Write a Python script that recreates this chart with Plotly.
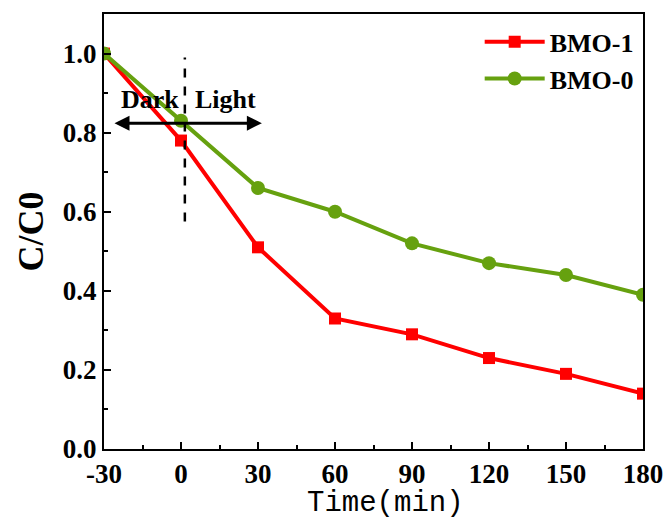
import plotly.graph_objects as go

time = [-30, 0, 30, 60, 90, 120, 150, 180]
bmo1 = [1.0, 0.78, 0.51, 0.33, 0.29, 0.23, 0.19, 0.14]
bmo0 = [1.0, 0.83, 0.66, 0.60, 0.52, 0.47, 0.44, 0.39]
x_ticks = [-30, 0, 30, 60, 90, 120, 150, 180]
y_ticks = [0.0, 0.2, 0.4, 0.6, 0.8, 1.0]

serif = "Times New Roman, Liberation Serif, serif"
mono = "Courier New, Liberation Mono, monospace"

fig = go.Figure()
fig.add_trace(go.Scatter(
    x=time, y=bmo1, name="<b>BMO-1</b>", mode="lines+markers",
    line=dict(color="#ff0000", width=4),
    marker=dict(symbol="square", size=12, color="#ff0000"),
))
fig.add_trace(go.Scatter(
    x=time, y=bmo0, name="<b>BMO-0</b>", mode="lines+markers",
    line=dict(color="#66a10f", width=4),
    marker=dict(symbol="circle", size=14, color="#66a10f"),
))

# dashed divider between dark and light
fig.add_shape(type="line", xref="x", yref="y", x0=1.5, x1=1.5, y0=0.575, y1=0.99,
              line=dict(color="black", width=2.5, dash="dash"))

# double-headed arrow
fig.add_annotation(x=31.5, y=0.824, ax=-26.5, ay=0.824, xref="x", yref="y",
                   axref="x", ayref="y", showarrow=True, arrowhead=2,
                   arrowside="end+start", arrowwidth=3, arrowsize=1,
                   arrowcolor="black", text="")
fig.add_annotation(x=-12.0, y=0.885, xref="x", yref="y", text="<b>Dark</b>",
                   showarrow=False, font=dict(family=serif, size=26, color="black"))
fig.add_annotation(x=17.5, y=0.885, xref="x", yref="y", text="<b>Light</b>",
                   showarrow=False, font=dict(family=serif, size=26, color="black"))

# x-axis title (offset slightly right of centre, as in the reference)
fig.add_annotation(x=0.522, y=-0.125, xref="paper", yref="paper",
                   text="Time(min)", showarrow=False, xanchor="center",
                   yanchor="middle",
                   font=dict(family=mono, size=29, color="black"))

fig.update_layout(
    width=666, height=520,
    margin=dict(l=104, r=23, t=14, b=71, autoexpand=False),
    plot_bgcolor="white", paper_bgcolor="white",
    font=dict(family=serif, color="black"),
    showlegend=True,
    legend=dict(x=0.992, y=0.99, xanchor="right", yanchor="top",
                bgcolor="rgba(0,0,0,0)", itemwidth=60, tracegroupgap=0,
                font=dict(family=serif, size=26, color="black")),
    xaxis=dict(
        range=[-30, 180], tickvals=x_ticks,
        ticktext=[f"<b>{v}</b>" for v in x_ticks],
        showgrid=False, zeroline=False, showline=True, linecolor="black",
        linewidth=2, mirror=True, ticks="inside", ticklen=7, tickwidth=2,
        tickcolor="black", automargin=False,
        minor=dict(ticks="inside", ticklen=4, tickwidth=1.5, dtick=15,
                   tick0=-30, tickcolor="black", showgrid=False),
        tickfont=dict(family=serif, size=27, color="black"),
    ),
    yaxis=dict(
        range=[0, 1.1], tickvals=y_ticks,
        ticktext=[f"<b>{v:.1f}</b>" for v in y_ticks],
        showgrid=False, zeroline=False, showline=True, linecolor="black",
        linewidth=2, mirror=True, ticks="inside", ticklen=7, tickwidth=2,
        tickcolor="black", automargin=False,
        minor=dict(ticks="inside", ticklen=4, tickwidth=1.5, dtick=0.1,
                   tick0=0, tickcolor="black", showgrid=False),
        tickfont=dict(family=serif, size=27, color="black"),
        title=dict(text="<b>C/C0</b>", standoff=8,
                   font=dict(family=serif, size=36, color="black")),
    ),
)

fig.write_html("out.html")
